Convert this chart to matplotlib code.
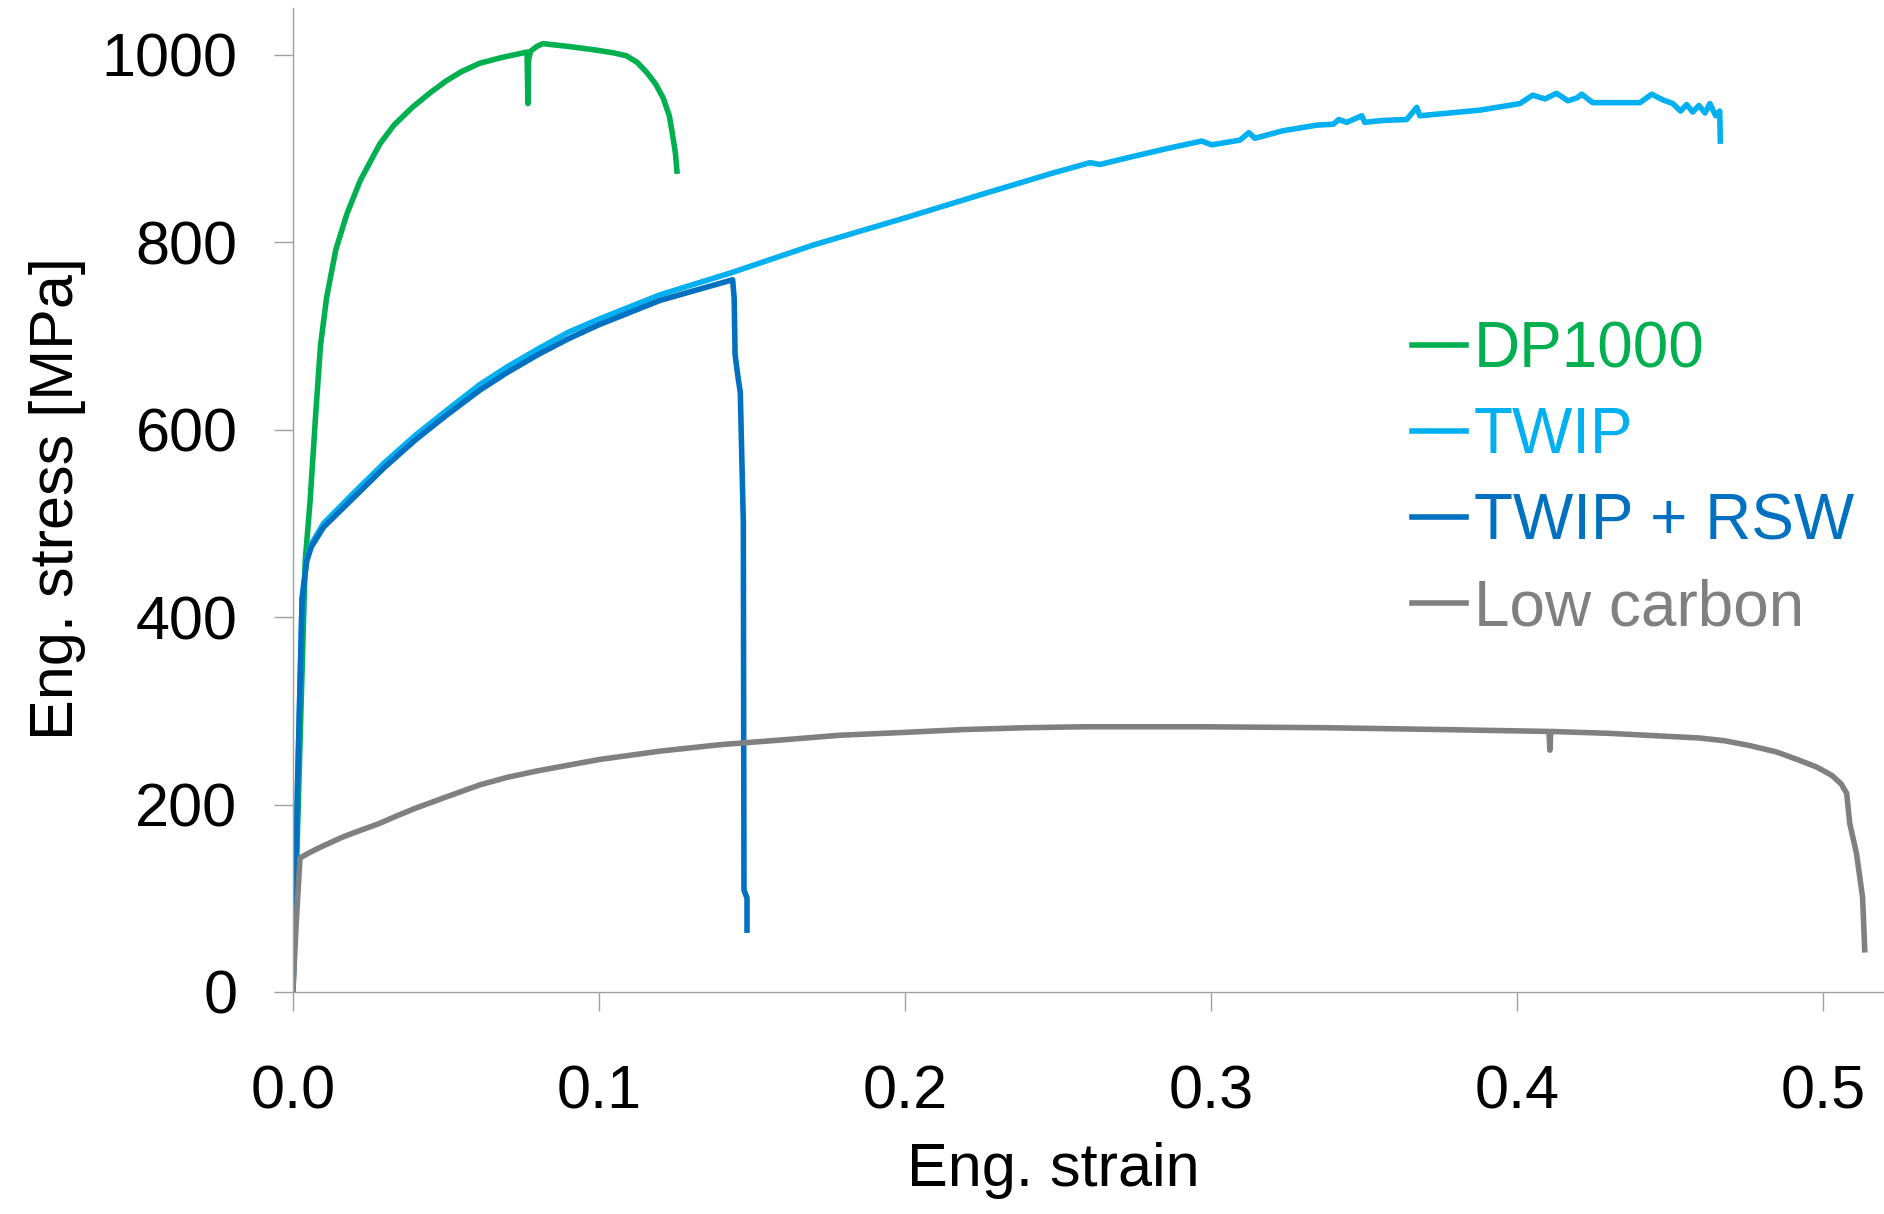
import matplotlib.pyplot as plt

plt.rcParams['font.family'] = ['Liberation Sans', 'DejaVu Sans']

# DP1000
dp_strain = [0, 0.002, 0.004, 0.0056, 0.0075, 0.009, 0.011, 0.014, 0.0176, 0.022, 0.0284,
             0.033, 0.039, 0.045, 0.050, 0.055, 0.061, 0.068, 0.0765, 0.0768, 0.0770, 0.0777,
             0.0797, 0.0817, 0.090, 0.0993, 0.105, 0.109, 0.1125, 0.1157, 0.1185, 0.121,
             0.123, 0.124, 0.125, 0.1255]
dp_stress = [0, 230, 460, 524, 620, 690, 741, 792, 830, 866, 905,
             925, 944, 960, 972, 982, 991, 997, 1003, 948, 995, 1004,
             1009, 1012, 1009, 1005, 1002, 999, 992, 981, 969, 954,
             935, 916, 895, 876]

# TWIP
twip_strain = [0, 0.0015, 0.003, 0.0045, 0.006, 0.01, 0.02, 0.03, 0.04, 0.05, 0.061, 0.07,
               0.08, 0.09, 0.1, 0.12, 0.1437, 0.17, 0.2, 0.225, 0.2474, 0.2605, 0.2637,
               0.2725, 0.2856, 0.297, 0.3003, 0.3095, 0.3124, 0.3144, 0.3235, 0.3346, 0.34,
               0.3418, 0.3444, 0.3493, 0.3503, 0.3562, 0.364, 0.3673, 0.3683, 0.378, 0.3879,
               0.401, 0.4052, 0.4092, 0.413, 0.4167, 0.4196, 0.4212, 0.4248, 0.4402, 0.4441,
               0.4477, 0.451, 0.4535, 0.4555, 0.4575, 0.4595, 0.4615, 0.4631, 0.4650, 0.4663,
               0.4665]
twip_stress = [0, 220, 420, 462, 478, 500, 533, 565, 594, 620, 648, 667,
               686, 704, 718, 744, 768, 797, 826, 851, 873, 885, 883,
               890, 900, 908, 904, 909, 917, 911, 919, 925, 926,
               931, 928, 935, 928, 930, 931, 944, 935, 938, 941,
               948, 957, 953, 959, 951, 954, 958, 949, 949, 958,
               952, 948, 940, 947, 939, 946, 938, 948, 935, 940,
               908]

# TWIP + RSW
rsw_strain = [0, 0.0015, 0.003, 0.0045, 0.006, 0.01, 0.02, 0.03, 0.04, 0.05, 0.061, 0.07,
              0.08, 0.09, 0.1, 0.12, 0.1437, 0.1442, 0.1445, 0.1455, 0.1462, 0.1472, 0.1474,
              0.1484, 0.1484]
rsw_stress = [0, 220, 420, 460, 475, 496, 528, 560, 589, 615, 642, 661,
              680, 697, 712, 738, 760, 740, 680, 655, 640, 500, 109,
              100, 66]

# Low carbon
lc_strain = [0, 0.001, 0.0023, 0.005, 0.008, 0.012, 0.016, 0.02, 0.0284, 0.034, 0.04, 0.05,
             0.0611, 0.07, 0.08, 0.09, 0.1, 0.12, 0.14, 0.16, 0.179, 0.2, 0.219, 0.24, 0.258,
             0.297, 0.337, 0.376, 0.4105, 0.4108, 0.4111, 0.43, 0.4598, 0.468, 0.476, 0.485,
             0.4925, 0.498, 0.503, 0.506, 0.5078, 0.5088, 0.511, 0.513, 0.5137]
lc_stress = [0, 70, 143, 148, 153, 159, 165, 170, 180, 188, 196, 208,
             221, 229, 236, 242, 248, 257, 264, 269, 274, 277, 280, 282, 283,
             283, 282, 280, 278, 258, 278, 276, 271, 268, 263, 256,
             247, 240, 231, 222, 212, 180, 148, 101, 45]

fig = plt.figure(figsize=(18.84, 12.14), dpi=100)
ax = fig.add_axes([0.1555, 0.1829, 0.8445, 0.8105])

lw = 4
ax.plot(dp_strain, dp_stress, color='#00B050', lw=lw, label='DP1000')
ax.plot(twip_strain, twip_stress, color='#00B0F0', lw=lw, label='TWIP')
ax.plot(rsw_strain, rsw_stress, color='#0070C0', lw=lw, label='TWIP + RSW')
ax.plot(lc_strain, lc_stress, color='#808080', lw=lw, label='Low carbon')

ax.set_xlim(0, 0.52)
ax.set_ylim(0, 1050)
ax.set_xticks([0, 0.1, 0.2, 0.3, 0.4, 0.5])
ax.set_xticklabels(['0.0', '0.1', '0.2', '0.3', '0.4', '0.5'])
ax.set_yticks([0, 200, 400, 600, 800, 1000])

for s in ['top', 'right']:
    ax.spines[s].set_visible(False)
for s in ['left', 'bottom']:
    ax.spines[s].set_color('#A0A0A0')
    ax.spines[s].set_linewidth(1.0)

ax.tick_params(axis='both', direction='out', length=14, width=1.0, color='#A0A0A0',
               labelsize=44, labelcolor='black')
ax.tick_params(axis='y', pad=26)
ax.tick_params(axis='x', pad=38)

ax.set_xlabel('Eng. strain', fontsize=44, labelpad=15)
ax.set_ylabel('Eng. stress [MPa]', fontsize=44)
ax.yaxis.label.set_va('center')
ax.yaxis.set_label_coords((58 - 293) / 1591, 0.501)
# strain label sits a bit left of the axes centre in the original
ax.xaxis.label.set_x(0.478)

leg = ax.legend(loc='upper left', bbox_to_anchor=(1412 / 1884, 1 - 320 / 1214),
                bbox_transform=fig.transFigure, frameon=False, fontsize=46,
                handlelength=0.85, handletextpad=0.12, labelspacing=0.41,
                borderpad=0, borderaxespad=0, labelcolor='linecolor')
for line in leg.get_lines():
    line.set_linewidth(4)

fig.savefig('out.png', dpi=100)
